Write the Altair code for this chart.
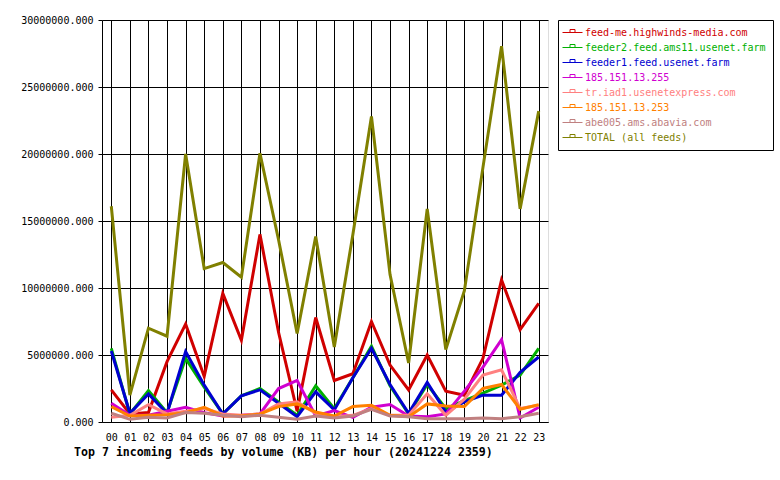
import altair as alt
import pandas as pd

hours = ["00", "01", "02", "03", "04", "05", "06", "07", "08", "09", "10", "11",
         "12", "13", "14", "15", "16", "17", "18", "19", "20", "21", "22", "23"]

series_names = [
    "feed-me.highwinds-media.com",
    "feeder2.feed.ams11.usenet.farm",
    "feeder1.feed.usenet.farm",
    "185.151.13.255",
    "tr.iad1.usenetexpress.com",
    "185.151.13.253",
    "abe005.ams.abavia.com",
    "TOTAL (all feeds)",
]
series_colors = ["#D00000", "#00B000", "#0000D0", "#D000D0",
                 "#FF8080", "#FF8000", "#C08080", "#808000"]

feed_me = [2400000, 600000, 700000, 4500000, 7300000, 3400000, 9600000, 6100000,
           14000000, 6700000, 800000, 7800000, 3100000, 3600000, 7500000, 4250000,
           2400000, 5000000, 2300000, 2000000, 4750000, 10600000, 6900000, 8850000]
feeder2 = [5500000, 600000, 2350000, 700000, 4750000, 2600000, 600000, 1950000,
           2500000, 1500000, 500000, 2700000, 1000000, 3300000, 5650000, 2700000,
           600000, 2800000, 1000000, 1600000, 2150000, 2750000, 3500000, 5500000]
feeder1 = [5300000, 650000, 2100000, 650000, 5250000, 2750000, 600000, 1950000,
           2400000, 1400000, 400000, 2250000, 900000, 3300000, 5500000, 2800000,
           650000, 2950000, 750000, 1500000, 2000000, 2000000, 3700000, 4850000]
ip_255 = [1400000, 500000, 500000, 800000, 1100000, 700000, 450000, 500000,
          600000, 2500000, 3100000, 450000, 850000, 350000, 1100000, 1300000,
          450000, 400000, 600000, 2300000, 4100000, 6150000, 300000, 1100000]
tr_iad1 = [350000, 500000, 1300000, 600000, 800000, 1000000, 600000, 500000,
           600000, 1350000, 1500000, 650000, 400000, 500000, 1000000, 500000,
           500000, 2100000, 500000, 1700000, 3500000, 3900000, 1000000, 1250000]
ip_253 = [1150000, 450000, 500000, 550000, 700000, 1100000, 450000, 450000,
          600000, 1150000, 1350000, 750000, 450000, 1150000, 1250000, 500000,
          400000, 1350000, 1200000, 1150000, 2500000, 2800000, 950000, 1300000]
abe005 = [650000, 200000, 350000, 300000, 700000, 650000, 500000, 400000,
          500000, 350000, 200000, 450000, 300000, 450000, 950000, 450000,
          400000, 250000, 250000, 250000, 300000, 250000, 400000, 650000]
total = [16100000, 2000000, 7000000, 6400000, 20000000, 11450000, 11900000, 10800000,
         20050000, 13600000, 6600000, 13850000, 5600000, 14000000, 22800000, 11000000,
         4400000, 15900000, 5400000, 9800000, 19000000, 28050000, 15900000, 23200000]

y_ticks = [0, 5000000, 10000000, 15000000, 20000000, 25000000, 30000000]

all_series = [feed_me, feeder2, feeder1, ip_255, tr_iad1, ip_253, abe005, total]
rows = []
for name, vals in zip(series_names, all_series):
    for h, v in zip(hours, vals):
        rows.append({"hour": h, "feed": name, "kb": v})
df = pd.DataFrame(rows)

FONT = "DejaVu Sans Mono"

legend = alt.Legend(
    title=None, orient="none", legendX=456, legendY=0, direction="vertical",
    fillColor="white", strokeColor="black", padding=7,
    symbolType="M-2,0H2M-0.5,0V-0.6H0.5V0", symbolSize=100, symbolStrokeWidth=1,
    symbolOffset=2, labelOffset=7, rowPadding=4,
    labelFont=FONT, labelFontSize=10, labelLimit=0,
    labelColor=alt.ExprRef("scale('color', datum.value)"),
)

chart = alt.Chart(df).mark_line(strokeWidth=3).encode(
    x=alt.X("hour:O", sort=hours,
            scale=alt.Scale(type="point", padding=0.5),
            axis=alt.Axis(title=None, labelAngle=0, ticks=False, labelPadding=10,
                          labelFont=FONT, labelFontSize=10, labelColor="black",
                          domainColor="black", grid=True, gridColor="black",
                          gridOpacity=1, gridWidth=1)),
    y=alt.Y("kb:Q",
            scale=alt.Scale(domain=[0, 30000000], nice=False, zero=True),
            axis=alt.Axis(title=None, values=y_ticks, format=".3f", tickSize=4,
                          tickColor="black", labelPadding=5, labelFont=FONT,
                          labelFontSize=10, labelColor="black", domainColor="black",
                          grid=True, gridColor="black", gridOpacity=1, gridWidth=1)),
    color=alt.Color("feed:N", sort=series_names,
                    scale=alt.Scale(domain=series_names, range=series_colors),
                    legend=legend),
).properties(
    width=446, height=402,
    padding={"left": 102, "top": 20, "right": 232, "bottom": 58},
    autosize="none",
    title=alt.TitleParams(
        "Top 7 incoming feeds by volume (KB) per hour (20241224 2359)",
        orient="bottom", anchor="start", frame="group", dx=-28, offset=5,
        font=FONT, fontSize=11.6, fontWeight="bold", color="black"),
).configure_view(
    fill="#E0E0E0", stroke="black", strokeWidth=1,
).configure(background="white")

chart.save("out.html", embed_options={"renderer": "svg", "actions": False})
